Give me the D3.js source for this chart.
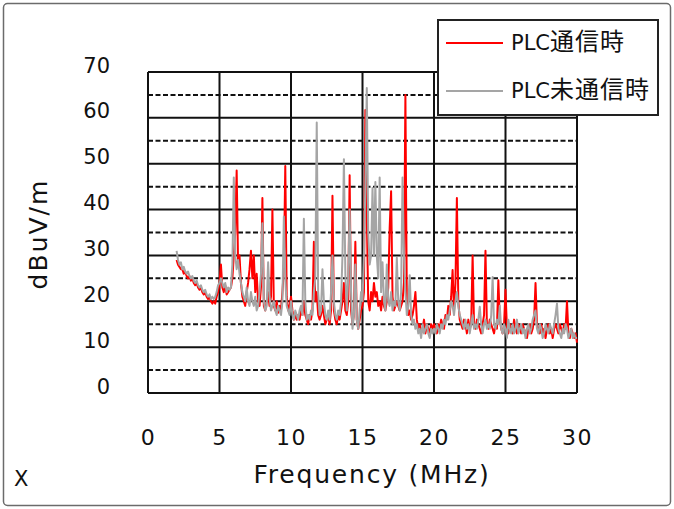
<!DOCTYPE html>
<html><head><meta charset="utf-8">
<script src="https://cdn.jsdelivr.net/npm/d3@7"></script>
<style>html,body{margin:0;padding:0;background:#fff;}svg{display:block;font-family:"DejaVu Sans",sans-serif;}</style>
</head><body><svg id="c" width="674" height="509"></svg>
<script>
// ---- data ----
const freqStart = 2.0, freqStep = 0.1;   // sampling grid of the spectrum (MHz)
const seriesNames = ["PLC通信時", "PLC未通信時"];
const seriesColors = ["#ff0000", "#a5a5a5"];
const xTicks = [0, 5, 10, 15, 20, 25, 30];
const yTicks = [0, 10, 20, 30, 40, 50, 60, 70];
const yDashed = [5, 15, 25, 35, 45, 55, 65];

// PLC通信時 (red), dBuV/m, 2.0 .. 30.0 MHz
const plcOn = [
 29,28,27.5,27,27,26,26.5,25.5,25,25.5,
 24.5,25,24,23.5,24,23,22.5,23,22,21.5,
 22,21,20.5,21,20,19.5,20,19.5,21,22,
 24,28,23,22,23.5,21.5,22,22.5,23,25,
 30,35,48.5,28,30,24,21,20,19,22,
 24,27,31,25,30,22,26,20,19,23,
 42.5,19,18,20,22,19,21,40,19,18,
 20,17.5,19,18,22,27,49.5,21,18,19,
 21,18,16,17,16,17,16,18,17,20,
 17,16,15,17,16,18,33,20,22,17,
 16,17,19,17,15,16,17,15,18,43,
 18,16,15,17,16,18,20,24,18,17,
 20,47.5,18,15,17,33,16,14,16,18,
 19,22,61.7,38.8,20,18,22,20,24,21,
 22,19,20,18,21,19,18,20,23,36,
 44,21,18,19,20,19,18,19,20,24,
 65,20,17,18,16,17,19,22,16,14,
 15,13,14,16,13,15,14,13,15,14,
 15,14,13,15,14,16,15,14,17,16,
 19,17,21,26.8,18,24,42.5,20,16,15,
 14,16,15,13,16,14,15,30,15,14,
 16,15,14,13,15,17,31,15,14,16,
 15,14,13,15,14,24.6,16,14,13,15,
 22.5,14,13,15,14,13,16,14,13,15,
 14,13,15,14,13,12,14,15,13,14,
 16,24,15,14,13,15,13,14,12,14,
 15,13,14,12,14,15,14,13,15,14,
 13,15,14,20,13,12,14,13,12,13,
 11
];
// PLC未通信時 (gray), dBuV/m, 2.0 .. 30.0 MHz
const plcOff = [
 31,29,28,28.5,27,27.5,26.5,26,26.5,25.5,
 25,25.5,24.5,24,24.5,23.5,23,23.5,22.5,22,
 22.5,21.5,21,21.5,20.5,21,20.5,21,22,23.5,
 24,25,24,23,24,22,23,22.5,23,28,
 47,30,27,29,26,24,22,21,20,23,
 20,19,22,20,19,21,18,19,22,26,
 37,20,18,19,28.5,21,18,19,20,18,
 17,19,18,17,20,38.5,25,19,18,17,
 20,17,16,18,17,16,18,19,17,38,
 20,16,17,16,18,17,22,25,59,22,
 17,18,27,20,17,16,18,16,22,30,
 20,17,16,18,17,20,30,51,26,18,
 25,40,22,14,17,28,16,14,18,22,
 20,30,45,66.5,35,28,30,44.7,30,46,
 30,25,47,22,28.5,20,18,28,20,19,
 22,18,20,19,29.5,20,18,22,47,30,
 22,17,19,25.7,17,15,16,14,15,13,
 14,12,15,13,14,15,13,12,14,13,
 14,13,15,14,13,15,14,16,15,17,
 16,18,20,19,17,20,22,19,17,16,
 15,14,16,14,15,13,15,17,14,15,
 14,16,18.8,15,13,15,16,14,15,14,
 17,25.3,15,14,16,15,19,14,13,15,
 14,12,16,14,13,15,13,14,16,13,
 14,15,13,14,12,14,15,13,14,16,
 17,18,14,13,15,14,12,13,15,14,
 13,15,14,13,15,17,19.5,14,13,12,
 14,13,15,14,12,13,14,12,13,12,
 12
];

// ---- chart ----
const svg = d3.select("#c");
const W = 674, H = 509;
const plot = {left: 148, right: 577, top: 72, bottom: 393};
const x = d3.scaleLinear().domain([0, 30]).range([plot.left, plot.right]);
const y = d3.scaleLinear().domain([0, 70]).range([plot.bottom, plot.top]);

// outer frame
svg.append("rect").attr("x", 3.5).attr("y", 3.5).attr("width", W - 7).attr("height", H - 7)
  .attr("rx", 4).attr("fill", "#fff").attr("stroke", "#6b6b6b").attr("stroke-width", 1.5);

// dashed gridlines
svg.append("g").selectAll("line").data(yDashed).join("line")
  .attr("x1", plot.left).attr("x2", plot.right)
  .attr("y1", d => y(d)).attr("y2", d => y(d))
  .attr("stroke", "#111").attr("stroke-width", 2).attr("stroke-dasharray", "5,2.5");
// solid gridlines
svg.append("g").selectAll("line").data(yTicks).join("line")
  .attr("x1", plot.left).attr("x2", plot.right)
  .attr("y1", d => y(d)).attr("y2", d => y(d))
  .attr("stroke", "#111").attr("stroke-width", 2);
svg.append("g").selectAll("line").data(xTicks).join("line")
  .attr("x1", d => x(d)).attr("x2", d => x(d))
  .attr("y1", plot.top).attr("y2", plot.bottom)
  .attr("stroke", "#111").attr("stroke-width", 2);

// series
const freqs = plcOn.map((_, i) => freqStart + i * freqStep);
const line = d3.line().x((d, i) => x(freqs[i])).y(d => y(d));
[plcOn, plcOff].forEach((vals, k) => {
  svg.append("path").datum(vals).attr("d", line)
    .attr("fill", "none").attr("stroke", seriesColors[k])
    .attr("stroke-width", 2).attr("stroke-linejoin", "round");
});

// axes (labels only, via d3 axes)
const yAxis = svg.append("g").attr("transform", `translate(${plot.left - 38},0)`)
  .call(d3.axisLeft(y).tickValues(yTicks).tickSize(0).tickPadding(0));
yAxis.select(".domain").remove();
yAxis.selectAll("text").attr("font-size", 21).attr("fill", "#111")
  .attr("font-family", "DejaVu Sans").attr("dy", "0.0em");

const xAxis = svg.append("g").attr("transform", `translate(0,${plot.bottom + 36})`)
  .call(d3.axisBottom(x).tickValues(xTicks).tickSize(0).tickPadding(0));
xAxis.select(".domain").remove();
xAxis.selectAll("text").attr("font-size", 22).attr("fill", "#111")
  .attr("font-family", "DejaVu Sans").attr("letter-spacing", 1.5);

// titles
svg.append("text").attr("transform", "translate(47,234) rotate(-90)")
  .attr("text-anchor", "middle").attr("font-size", 25).attr("letter-spacing", 2)
  .attr("fill", "#111").text("dBuV/m");
svg.append("text").attr("x", 372).attr("y", 483)
  .attr("text-anchor", "middle").attr("font-size", 25).attr("letter-spacing", 1.8)
  .attr("fill", "#111").text("Frequency (MHz)");
svg.append("text").attr("x", 14).attr("y", 486)
  .attr("font-size", 21).attr("fill", "#111").text("X");

// legend
const lg = svg.append("g");
lg.append("rect").attr("x", 438).attr("y", 20).attr("width", 220).attr("height", 95)
  .attr("fill", "#fff").attr("stroke", "#222").attr("stroke-width", 2);
seriesNames.forEach((name, k) => {
  const ly = 43 + k * 48;
  lg.append("line").attr("x1", 446).attr("x2", 503).attr("y1", ly).attr("y2", ly)
    .attr("stroke", seriesColors[k]).attr("stroke-width", 2);
  const t = lg.append("text").attr("x", 511).attr("y", ly + 7)
    .attr("font-family", "'DejaVu Sans','Noto Sans CJK JP',sans-serif").attr("fill", "#111");
  t.append("tspan").attr("font-size", 21).text(name.slice(0, 3));
  t.append("tspan").attr("font-size", 24).attr("font-family", "'Noto Sans CJK JP',sans-serif")
    .attr("letter-spacing", 1).text(name.slice(3));
});
</script>
</body></html>
